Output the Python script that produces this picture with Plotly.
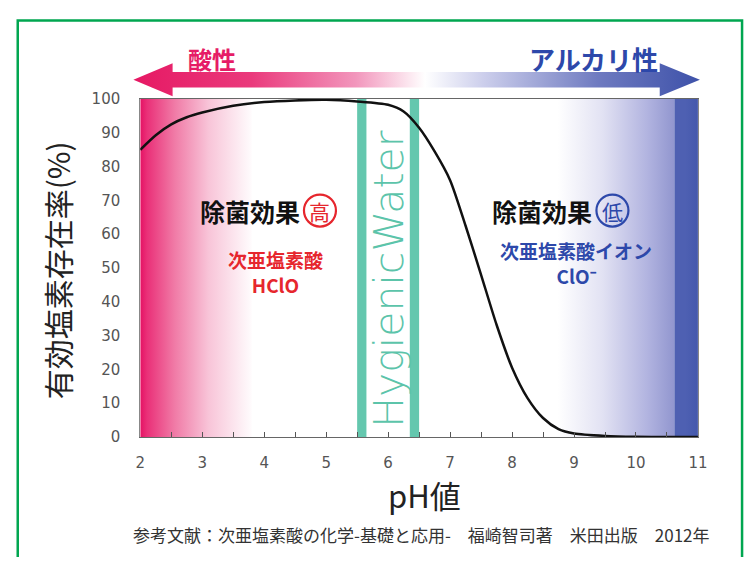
import plotly.graph_objects as go

# ---------------- data ----------------
ph_values = [2, 2.25, 2.5, 2.75, 3, 3.5, 4, 4.5, 5, 5.5, 6, 6.25, 6.5, 6.75, 7, 7.25, 7.5, 7.75,
             8, 8.25, 8.5, 8.75, 9, 9.5, 10, 10.5, 11]
hclo_pct = [85, 89.3, 92.5, 94.6, 96.0, 98.0, 99.1, 99.6, 99.8, 99.3, 98.3, 96.3, 91.5, 84.5, 76,
            62.5, 48, 33.2, 20.5, 11.5, 5.6, 2.3, 1.0, 0.3, 0.05, 0, 0]

x_ticks = [2, 3, 4, 5, 6, 7, 8, 9, 10, 11]
y_ticks = [0, 10, 20, 30, 40, 50, 60, 70, 80, 90, 100]

band_left = [5.50, 5.65]     # HygienicWater band edges (pH)
band_right = [6.35, 6.50]
acid_zone = [2.0, 3.8]       # pink gradient zone (pH)
alk_zone = [8.6, 10.62]      # lavender gradient zone (pH)
alk_edge = [10.62, 11.0]     # dark blue edge (pH)

W, H = 755, 566
PL, PR, PT, PB = 138, 707, 93, 442   # plot area in window pixels

CJK = "Noto Sans CJK JP"
TEAL = "rgb(92,196,170)"
RED = "rgb(230,38,45)"
BLUE = "rgb(45,72,170)"
MAG = "rgb(230,28,102)"

fig = go.Figure()

def rect_trace(x0, x1, y0, y1, **kw):
    return go.Scatter(x=[x0, x1, x1, x0, x0], y=[y0, y0, y1, y1, y0], mode="lines",
                      line=dict(width=0), fill="toself", hoverinfo="skip",
                      showlegend=False, **kw)

# background gradients inside the plot
fig.add_trace(rect_trace(acid_zone[0], acid_zone[1], 0, 100,
    fillgradient=dict(type="horizontal", start=acid_zone[0], stop=acid_zone[1],
        colorscale=[[0, "rgb(229,18,100)"], [0.06, "rgb(234,48,120)"], [0.3, "rgb(240,122,166)"],
                    [0.6, "rgb(248,196,216)"], [1, "rgb(255,255,255)"]])))
fig.add_trace(rect_trace(alk_zone[0], alk_zone[1], 0, 100,
    fillgradient=dict(type="horizontal", start=alk_zone[0], stop=alk_zone[1],
        colorscale=[[0, "rgb(255,255,255)"], [0.35, "rgb(226,226,243)"], [0.7, "rgb(178,180,224)"],
                    [1, "rgb(132,138,200)"]])))
fig.add_trace(rect_trace(alk_edge[0], alk_edge[1], 0, 100,
    fillgradient=dict(type="horizontal", start=alk_edge[0], stop=alk_edge[1],
        colorscale=[[0, "rgb(78,96,178)"], [1, "rgb(60,82,168)"]])))

# teal bands
for b in (band_left, band_right):
    fig.add_trace(rect_trace(b[0], b[1], 0, 100, fillcolor=TEAL, opacity=0.95))

# curve
fig.add_trace(go.Scatter(x=ph_values, y=hclo_pct, mode="lines",
                         line=dict(color="#111111", width=2.5, shape="spline", smoothing=0.7),
                         hoverinfo="skip", showlegend=False))

# decorative arrow in pixel overlay axes (window pixel units)
ax_x = [131, 171, 171, 668, 668, 709, 668, 668, 171, 171, 131]
ax_y = [73, 56, 65, 65, 56, 73, 90, 81, 81, 90, 73]
fig.add_trace(go.Scatter(x=ax_x, y=ax_y, xaxis="x2", yaxis="y2", mode="lines",
    line=dict(width=0), fill="toself", hoverinfo="skip", showlegend=False,
    fillgradient=dict(type="horizontal", start=131, stop=709,
        colorscale=[[0, "rgb(230,25,100)"], [0.2, "rgb(234,58,124)"], [0.38, "rgb(242,150,188)"],
                    [0.5, "rgb(255,255,255)"], [0.6, "rgb(205,207,236)"], [0.8, "rgb(110,122,192)"],
                    [1, "rgb(55,76,166)"]])))

ann = []
def a(text, x, y, size, color, ref="px", weight="normal", family=CJK, angle=0):
    if ref == "px":
        d = dict(xref="x2", yref="y2")
    else:
        d = dict(xref="x", yref="y")
    ann.append(dict(text=text, x=x, y=y, showarrow=False, textangle=angle,
                    font=dict(size=size, color=color, family=family, weight=weight),
                    xanchor="center", yanchor="middle", **d))

# outside texts (window pixel positions)
a("酸性", 211, 51, 24, MAG, weight="bold")
a("アルカリ性", 600, 51, 26, BLUE, weight="bold")
a("有効塩素存在率(%)", 53, 270, 30, "#222222", angle=-90)
a("pH値", 428, 501, 31, "#222222")
a("参考文献：次亜塩素酸の化学-基礎と応用-　福崎智司著　米田出版　2012年", 425, 543, 17, "#333333")

# inside texts (data positions)
a("除菌効果", 3.775, 66.8, 25, "#111111", ref="d", weight="bold")
a("高", 4.90, 67.0, 21, RED, ref="d")
a("次亜塩素酸<br>HClO", 4.19, 48.7, 19, RED, ref="d", weight="bold")
a("除菌効果", 8.48, 66.8, 25, "#111111", ref="d", weight="bold")
a("低", 9.62, 67.0, 21, BLUE, ref="d")
a("次亜塩素酸イオン<br>ClO⁻", 9.03, 51.6, 19, BLUE, ref="d", weight="bold")
a("HygienicWater", 6.02, 46.9, 41, TEAL, ref="d", weight=200, family="DejaVu Sans", angle=-90)

shapes = [
    dict(type="circle", xref="x", yref="y", xsizemode="pixel", ysizemode="pixel",
         xanchor=4.90, yanchor=67.0, x0=-16, x1=16, y0=-16, y1=16,
         line=dict(color=RED, width=2.2)),
    dict(type="circle", xref="x", yref="y", xsizemode="pixel", ysizemode="pixel",
         xanchor=9.62, yanchor=67.0, x0=-16, x1=16, y0=-16, y1=16,
         line=dict(color=BLUE, width=2.2)),
    dict(type="rect", xref="x2", yref="y2", x0=13, x1=752, y0=12, y1=700,
         line=dict(color="rgb(0,166,80)", width=2.5)),
]

tickfont = dict(family="DejaVu Sans", size=15, color="#555555")
fig.update_layout(
    width=W, height=H, margin=dict(l=0, r=0, t=0, b=0),
    paper_bgcolor="white", plot_bgcolor="rgba(0,0,0,0)",
    showlegend=False, annotations=ann, shapes=shapes,
    xaxis=dict(domain=[PL / W, PR / W], range=[2, 11], tickvals=x_ticks,
               ticks="inside", ticklen=5, tickcolor="#555555", tickwidth=1,
               minor=dict(dtick=0.5, ticks="inside", ticklen=5, tickcolor="#555555"),
               showline=True, linecolor="#666666", linewidth=1.5, mirror=True,
               showgrid=False, zeroline=False, tickfont=tickfont, ticklabelstandoff=12,
               fixedrange=True),
    yaxis=dict(domain=[(H - PB) / H, (H - PT) / H], range=[0, 100], tickvals=y_ticks,
               ticks="", showline=True, linecolor="#888888", linewidth=1, mirror=True,
               showgrid=False, zeroline=False, tickfont=tickfont, ticklabelstandoff=16,
               fixedrange=True),
    xaxis2=dict(domain=[0, 1], range=[0, W], visible=False, anchor="y2", fixedrange=True),
    yaxis2=dict(domain=[0, 1], range=[H, 0], visible=False, anchor="x2", fixedrange=True),
)

fig.write_html("out.html", config={"displayModeBar": False, "staticPlot": True},
               post_script="document.body.style.margin='0px';document.body.style.overflow='hidden';")
